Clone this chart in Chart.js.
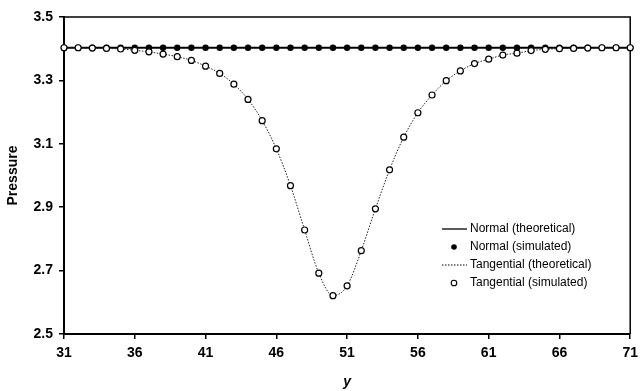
<!DOCTYPE html>
<html>
<head>
<meta charset="utf-8">
<script src="https://cdn.jsdelivr.net/npm/chart.js@4.4.0/dist/chart.umd.min.js"></script>
<style>
  html, body { margin:0; padding:0; background:#fff; }
  #wrap { width:644px; height:391px; }
</style>
</head>
<body>
<div id="wrap"><canvas id="chart" width="644" height="391"></canvas></div>
<script>
// values
const yPos = [31,32,33,34,35,36,37,38,39,40,41,42,43,44,45,46,47,48,49,50,51,52,53,54,55,56,57,58,59,60,61,62,63,64,65,66,67,68,69,70,71];
const normalTheoretical = [3.403,3.403,3.403,3.403,3.403,3.403,3.403,3.403,3.403,3.403,3.403,3.403,3.403,3.403,3.403,3.403,3.403,3.403,3.403,3.403,3.403,3.403,3.403,3.403,3.403,3.403,3.403,3.403,3.403,3.403,3.403,3.403,3.403,3.403,3.403,3.403,3.403,3.403,3.403,3.403,3.403];
const normalSimulated = [3.403,3.403,3.403,3.403,3.403,3.403,3.403,3.403,3.403,3.403,3.403,3.403,3.403,3.403,3.403,3.403,3.403,3.403,3.403,3.403,3.403,3.403,3.403,3.403,3.403,3.403,3.403,3.403,3.403,3.403,3.403,3.403,3.403,3.403,3.403,3.403,3.403,3.403,3.403,3.403,3.403];
const tangentialTheoretical = [3.403,3.403,3.402,3.401,3.399,3.395,3.390,3.383,3.375,3.363,3.345,3.322,3.288,3.240,3.173,3.084,2.968,2.828,2.692,2.621,2.652,2.763,2.895,3.018,3.121,3.198,3.254,3.299,3.330,3.353,3.367,3.380,3.386,3.394,3.398,3.400,3.401,3.402,3.403,3.403,3.403];
const tangentialSimulated = [3.403,3.403,3.402,3.401,3.399,3.395,3.390,3.383,3.375,3.363,3.345,3.322,3.288,3.240,3.173,3.084,2.968,2.828,2.692,2.621,2.652,2.763,2.895,3.018,3.121,3.198,3.254,3.299,3.330,3.353,3.367,3.380,3.386,3.394,3.398,3.400,3.401,3.402,3.403,3.403,3.403];
const xTicks = [31,36,41,46,51,56,61,66,71];
const yTicks = [2.5,2.7,2.9,3.1,3.3,3.5];
const legendNames = ['Normal (theoretical)','Normal (simulated)','Tangential (theoretical)','Tangential (simulated)'];

const FONT = "'Liberation Sans', Arial, sans-serif";
const pts = arr => yPos.map((x,i)=>({x:x, y:arr[i]}));

// box on top and right side
const boxPlugin = {
  id:'box',
  beforeDatasetsDraw(chart){
    const {ctx, chartArea:a} = chart;
    ctx.save();
    ctx.strokeStyle='#000'; ctx.lineWidth=1.5;
    ctx.beginPath();
    ctx.moveTo(a.left, a.top); ctx.lineTo(a.right, a.top); ctx.lineTo(a.right, a.bottom);
    ctx.stroke();
    ctx.restore();
  }
};

// legend drawn inside plot area
const legendPlugin = {
  id:'innerLegend',
  afterDraw(chart){
    const ctx = chart.ctx;
    const x0 = 442, x1 = 467, tx = 470;
    const rows = [229, 247, 265, 283];
    ctx.save();
    ctx.font = '12px ' + FONT;
    ctx.textBaseline = 'middle';
    ctx.fillStyle = '#000';
    rows.forEach((y,i)=>{
      ctx.strokeStyle = '#000';
      if(i===0){ ctx.lineWidth=1.3; ctx.setLineDash([]); ctx.beginPath(); ctx.moveTo(x0,y); ctx.lineTo(x1,y); ctx.stroke(); }
      if(i===1){ ctx.beginPath(); ctx.arc(454,y,2.8,0,Math.PI*2); ctx.fill(); }
      if(i===2){ ctx.lineWidth=1; ctx.setLineDash([1.5,1.5]); ctx.beginPath(); ctx.moveTo(x0,y); ctx.lineTo(x1,y); ctx.stroke(); ctx.setLineDash([]); }
      if(i===3){ ctx.lineWidth=1.1; ctx.fillStyle='#fff'; ctx.beginPath(); ctx.arc(454,y,2.8,0,Math.PI*2); ctx.fill(); ctx.stroke(); ctx.fillStyle='#000'; }
      ctx.fillText(legendNames[i], tx, y);
    });
    ctx.restore();
  }
};

new Chart(document.getElementById('chart'), {
  type:'line',
  data:{
    datasets:[
      { label:legendNames[3], data:pts(tangentialSimulated), showLine:false, pointRadius:3, pointBorderWidth:1.2,
        pointBackgroundColor:'#fff', pointBorderColor:'#000', order:0, clip:false },
      { label:legendNames[2], data:pts(tangentialTheoretical), pointRadius:0, borderColor:'#222', borderWidth:1,
        borderDash:[1.5,1.5], cubicInterpolationMode:'monotone', order:1, clip:false },
      { label:legendNames[1], data:pts(normalSimulated), showLine:false, pointRadius:3.2, pointBorderWidth:0,
        pointBackgroundColor:'#000', pointBorderColor:'#000', order:2, clip:false },
      { label:legendNames[0], data:pts(normalTheoretical), pointRadius:0, borderColor:'#000', borderWidth:1.8, order:3, clip:false }
    ]
  },
  options:{
    responsive:false, animation:false,
    layout:{ padding:{ top:17, right:7, left:0, bottom:0 } },
    plugins:{ legend:{ display:false }, tooltip:{ enabled:false } },
    scales:{
      x:{
        type:'linear', min:31, max:71,
        afterBuildTicks: s => { s.ticks = xTicks.map(v=>({value:v})); },
        afterFit: s => { s.height = 57; },
        ticks:{ color:'#000', padding:6, font:{ family:FONT, size:14, weight:'bold' }, maxRotation:0 },
        grid:{ display:true, drawOnChartArea:false, drawTicks:true, tickLength:5, color:'#000', lineWidth:1.5 },
        border:{ display:true, color:'#000', width:2 },
        title:{ display:true, text:'y', color:'#000', padding:{ top:0, bottom:0 },
                font:{ family:FONT, size:14, weight:'bold', style:'italic' } }
      },
      y:{
        type:'linear', min:2.5, max:3.5,
        afterBuildTicks: s => { s.ticks = yTicks.map(v=>({value:v})); },
        afterFit: s => { s.width = 64; },
        ticks:{ color:'#000', padding:6, font:{ family:FONT, size:14, weight:'bold' }, callback: v => v.toFixed(1) },
        grid:{ display:true, drawOnChartArea:false, drawTicks:true, tickLength:5, color:'#000', lineWidth:1.5 },
        border:{ display:true, color:'#000', width:2 },
        title:{ display:true, text:'Pressure', color:'#000', padding:{ top:5, bottom:0 },
                font:{ family:FONT, size:14, weight:'bold' } }
      }
    }
  },
  plugins:[boxPlugin, legendPlugin]
});
</script>
</body>
</html>
